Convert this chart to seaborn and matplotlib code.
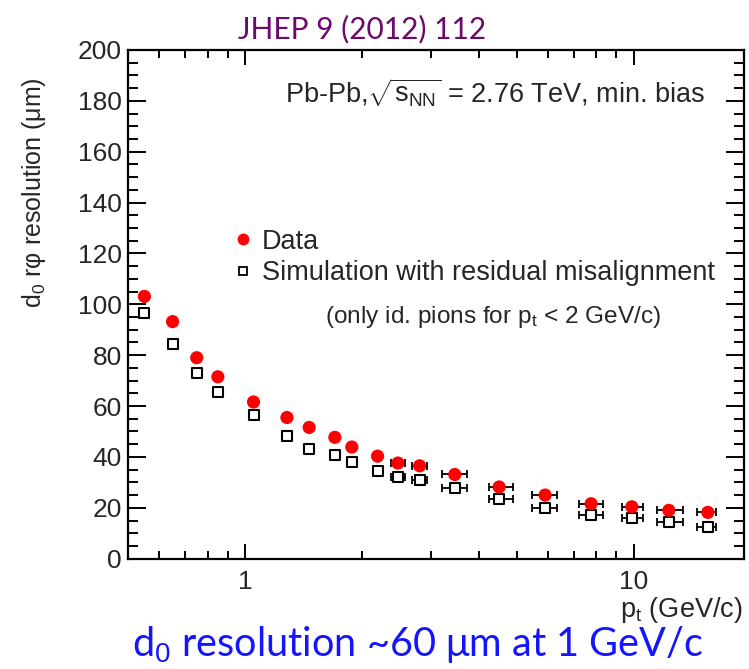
import numpy as np
import pandas as pd
import matplotlib
matplotlib.use("Agg")
import matplotlib.pyplot as plt
from matplotlib.ticker import MultipleLocator, LogLocator, NullFormatter, FixedLocator, FixedFormatter
from matplotlib.lines import Line2D
import seaborn as sns

# ---- data ----
pt = [0.55, 0.65, 0.75, 0.85, 1.05, 1.28, 1.46, 1.70, 1.88, 2.19, 2.47, 2.81,
      3.46, 4.50, 5.91, 7.76, 9.88, 12.3, 15.5]
pt_err_lo = [0.0, 0.0, 0.0, 0.0, 0.0, 0.0, 0.0, 0.0, 0.0, 0.05, 0.1, 0.12,
             0.26, 0.26, 0.45, 0.52, 0.57, 0.84, 1.0]
pt_err_hi = [0.0, 0.0, 0.0, 0.0, 0.0, 0.0, 0.0, 0.0, 0.0, 0.05, 0.1, 0.12,
             0.27, 0.40, 0.44, 0.59, 0.67, 1.05, 0.8]
data_res = [103.1, 93.2, 79.0, 71.5, 61.6, 55.5, 51.6, 47.7, 43.9, 40.3, 37.6, 36.5,
            33.1, 28.2, 25.0, 21.6, 20.4, 19.0, 18.2]
sim_res = [96.6, 84.2, 73.1, 65.4, 56.5, 48.2, 43.3, 40.7, 37.9, 34.4, 32.2, 30.9,
           27.6, 23.3, 20.0, 17.1, 15.8, 14.3, 12.3]
series_names = ["Data", "Simulation with residual misalignment"]

sns.set_style("ticks")
plt.rcParams['font.family'] = ['Liberation Sans', 'DejaVu Sans']
plt.rcParams['mathtext.fontset'] = 'custom'
plt.rcParams['mathtext.rm'] = 'Liberation Sans'
plt.rcParams['mathtext.it'] = 'Liberation Sans:italic'
plt.rcParams['mathtext.bf'] = 'Liberation Sans:bold'

df = pd.DataFrame({"pt": pt * 2,
                   "res": data_res + sim_res,
                   "series": [series_names[0]] * len(pt) + [series_names[1]] * len(pt)})

fig = plt.figure(figsize=(7.49, 6.69), dpi=100)
ax = fig.add_axes([0.1713, 0.1649, 0.8220, 0.7605])

xerr = [pt_err_lo, pt_err_hi]
for yvals in (data_res, sim_res):
    ax.errorbar(pt, yvals, xerr=xerr, fmt='none', ecolor='black', elinewidth=1.3,
                capsize=3, capthick=1.3, zorder=2)

sns.scatterplot(data=df[df.series == series_names[0]], x="pt", y="res", ax=ax,
                marker='o', s=90, color='#ff0000', edgecolor='none', zorder=4,
                legend=False)
sns.scatterplot(data=df[df.series == series_names[1]], x="pt", y="res", ax=ax,
                marker='s', s=58, facecolor='white', edgecolor='black', linewidth=1.5,
                zorder=3, legend=False)

ax.set_xscale('log')
ax.set_xlim(0.5, 19.2)
ax.set_ylim(0, 200)

ax.xaxis.set_major_locator(FixedLocator([1, 10]))
ax.xaxis.set_major_formatter(FixedFormatter(['1', '10']))
ax.xaxis.set_minor_locator(LogLocator(base=10, subs=np.arange(2, 10)))
ax.xaxis.set_minor_formatter(NullFormatter())
ax.yaxis.set_major_locator(MultipleLocator(20))
ax.yaxis.set_minor_locator(MultipleLocator(5))

ax.tick_params(which='both', direction='in', top=True, right=True, color='black',
               labelsize=19)
ax.tick_params(axis='y', which='major', length=13, width=1.4, pad=4.5)
ax.tick_params(axis='y', which='minor', length=7, width=1.4)
ax.tick_params(axis='x', which='major', length=11, width=1.4, pad=8)
ax.tick_params(axis='x', which='minor', length=6, width=1.4)
for sp in ax.spines.values():
    sp.set_linewidth(1.6)
    sp.set_color('black')

ax.set_xlabel("")
ax.set_ylabel("d$_0$ rφ resolution (μm)", fontsize=18)
ax.yaxis.set_label_coords(-0.13, 0.72)

fig.text(0.992, 0.0777, "p$_{\\mathrm{t}}$ (GeV/c)", ha='right', va='baseline', fontsize=19.5)

ax.text(0.937, 0.8958, "Pb-Pb,$\\sqrt{\\mathrm{s}_{\\mathrm{NN}}}$ = 2.76 TeV, min. bias",
        transform=ax.transAxes, ha='right', va='baseline', fontsize=19.5)

# legend
h1 = Line2D([], [], marker='o', color='#ff0000', linestyle='none', markersize=7.5)
h2 = Line2D([], [], marker='s', markerfacecolor='white', markeredgecolor='black',
            linestyle='none', markersize=6, markeredgewidth=1.3)
ax.legend([h1, h2], series_names,
          loc='upper left', bbox_to_anchor=(0.151, 0.67), frameon=False,
          fontsize=19.5, handletextpad=0.3, labelspacing=0.2, handlelength=0.8,
          borderaxespad=0)
ax.text(0.3197, 0.4633, "(only id. pions for p$_{\\mathrm{t}}$ < 2 GeV/c)",
        transform=ax.transAxes, ha='left', va='baseline', fontsize=17.6)

fig.text(0.483, 0.943, "JHEP 9 (2012) 112", ha='center', va='baseline',
         fontsize=21.5, color='#6b0a6b', family=['Lato', 'DejaVu Sans'])
fig.text(0.557, 0.019, "d$_0$ resolution ~60 μm at 1 GeV/c", ha='center', va='baseline',
         fontsize=28.5, color='#1414ff', family=['Lato', 'DejaVu Sans'])

fig.savefig("out.png", dpi=100)
